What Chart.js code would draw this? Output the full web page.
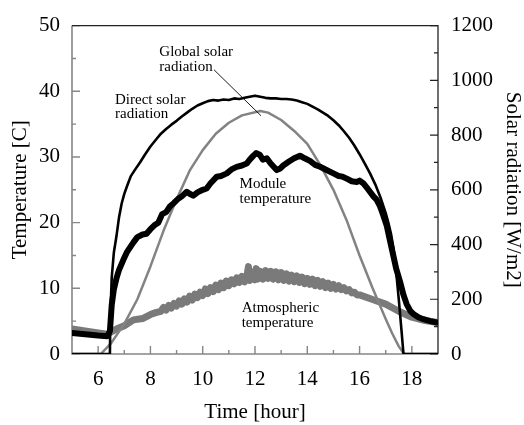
<!DOCTYPE html>
<html><head><meta charset="utf-8">
<script src="https://cdn.jsdelivr.net/npm/chart.js@4.4.0/dist/chart.umd.min.js"></script>
<style>html,body{margin:0;padding:0;background:#fff;}#wrap{width:524px;height:425px;}</style>
</head><body><div id="wrap"><canvas id="c" width="524" height="425"></canvas></div>
<script>
// ---- tick values ----
const xTicks = [6, 8, 10, 12, 14, 16, 18];
const xMinorTicks = [7, 9, 11, 13, 15, 17];
const tempTicks = [0, 10, 20, 30, 40, 50];
const tempMinorTicks = [5, 15, 25, 35, 45];
const radTicks = [0, 200, 400, 600, 800, 1000, 1200];
const radMinorTicks = [100, 300, 500, 700, 900, 1100];

// ---- Direct solar radiation [W/m2] ----
const directTime = [5.0, 6.45, 6.47, 6.52, 6.6, 6.7, 6.8, 6.9, 7.0, 7.1, 7.25, 7.4, 7.6, 7.8, 8.0, 8.2, 8.4, 8.6, 8.8, 9.0, 9.2, 9.4, 9.6, 9.8, 10.0, 10.2, 10.4, 10.6, 10.8, 11.0, 11.2, 11.4, 11.6, 11.8, 12.0, 12.2, 12.4, 12.6, 12.8, 13.0, 13.2, 13.4, 13.6, 13.8, 14.0, 14.2, 14.4, 14.6, 14.8, 15.0, 15.2, 15.4, 15.6, 15.8, 16.0, 16.2, 16.4, 16.6, 16.8, 17.0, 17.1, 17.2, 17.3, 17.4, 17.5, 17.6, 17.68, 19.0];
const directRad = [0, 0, 150, 280, 370, 430, 500, 550, 585, 612, 650, 672, 700, 730, 758, 782, 805, 822, 838, 852, 868, 882, 896, 908, 916, 924, 928, 926, 930, 928, 934, 932, 936, 940, 944, 940, 936, 934, 934, 932, 932, 930, 926, 920, 914, 904, 894, 882, 870, 854, 836, 814, 790, 762, 730, 696, 660, 620, 572, 515, 480, 440, 385, 300, 200, 90, 0, 0];

// ---- Global solar radiation [W/m2] ----
const globalTime = [5.0, 6.1, 6.5, 7.0, 7.5, 8.0, 8.5, 9.0, 9.5, 10.0, 10.5, 11.0, 11.5, 12.2, 12.5, 13.0, 13.5, 14.0, 14.5, 15.0, 15.5, 16.0, 16.5, 17.0, 17.25, 17.5, 17.7, 19.0];
const globalRad = [0, 0, 40, 110, 200, 320, 450, 565, 670, 745, 805, 845, 872, 888, 882, 855, 815, 768, 690, 600, 490, 360, 240, 128, 75, 28, 0, 0];

// ---- Module temperature [C] ----
const moduleTime = [5.0, 5.5, 6.0, 6.35, 6.45, 6.52, 6.6, 6.7, 6.8, 6.96, 7.1, 7.35, 7.5, 7.7, 7.85, 8.0, 8.15, 8.3, 8.45, 8.6, 8.75, 8.9, 9.05, 9.2, 9.39, 9.5, 9.64, 9.8, 10.0, 10.15, 10.3, 10.54, 10.7, 10.92, 11.1, 11.3, 11.5, 11.68, 11.8, 11.94, 12.05, 12.19, 12.3, 12.45, 12.6, 12.83, 12.95, 13.08, 13.3, 13.5, 13.72, 13.9, 14.1, 14.3, 14.49, 14.7, 15.0, 15.2, 15.35, 15.51, 15.7, 15.89, 16.0, 16.14, 16.3, 16.53, 16.65, 16.78, 16.9, 17.04, 17.15, 17.29, 17.4, 17.55, 17.68, 17.8, 17.95, 18.06, 18.25, 18.44, 18.7, 18.95, 19.0];
const moduleTemp = [3.2, 3.0, 2.8, 2.7, 3.5, 7.5, 9.8, 11.5, 12.8, 14.3, 15.5, 17.0, 17.8, 18.2, 18.3, 19.0, 19.6, 20.0, 21.3, 21.6, 22.5, 23.0, 23.6, 24.0, 24.7, 24.4, 24.1, 24.6, 25.0, 25.2, 26.0, 27.0, 27.1, 27.5, 28.1, 28.5, 28.7, 29.0, 29.6, 30.2, 30.6, 30.3, 29.6, 29.8, 29.0, 28.0, 28.2, 28.7, 29.3, 29.8, 30.2, 29.8, 29.4, 28.8, 28.5, 28.1, 27.5, 27.1, 27.0, 26.7, 26.3, 26.2, 26.4, 26.0, 25.2, 24.0, 23.5, 22.5, 21.2, 19.5, 17.5, 15.0, 13.0, 11.0, 9.0, 7.6, 6.5, 6.1, 5.6, 5.3, 5.0, 4.8, 4.8];

// ---- Atmospheric temperature [C] ----
const atmTime = [5.0, 5.5, 6.0, 6.35, 6.7, 7.0, 7.35, 7.7, 8.0, 8.2, 8.4, 8.5, 8.6, 8.7, 8.8, 8.9, 9.0, 9.1, 9.2, 9.3, 9.4, 9.5, 9.6, 9.7, 9.8, 9.9, 10.0, 10.1, 10.2, 10.3, 10.4, 10.5, 10.6, 10.7, 10.8, 10.9, 11.0, 11.1, 11.2, 11.3, 11.4, 11.5, 11.6, 11.7, 11.75, 11.8, 11.9, 12.0, 12.05, 12.1, 12.2, 12.3, 12.4, 12.5, 12.6, 12.7, 12.8, 12.9, 13.0, 13.1, 13.2, 13.3, 13.4, 13.5, 13.6, 13.7, 13.8, 13.9, 14.0, 14.1, 14.2, 14.3, 14.4, 14.5, 14.6, 14.7, 14.8, 14.9, 15.0, 15.1, 15.2, 15.3, 15.4, 15.5, 15.6, 15.7, 15.8, 15.9, 16.0, 16.5, 17.0, 17.5, 18.0, 18.5, 19.0];
const atmTemp = [3.8, 3.5, 3.2, 3.0, 3.8, 4.3, 5.2, 5.4, 6.0, 6.3, 6.5, 7.1, 6.7, 7.4, 7.0, 7.7, 7.3, 8.1, 7.6, 8.4, 7.9, 8.8, 8.2, 9.1, 8.6, 9.4, 8.9, 9.9, 9.2, 10.1, 9.5, 10.5, 9.8, 10.8, 10.1, 11.1, 10.4, 11.3, 10.7, 11.6, 10.9, 11.8, 11.0, 12.1, 13.3, 11.2, 12.5, 11.3, 13.0, 11.4, 12.6, 11.4, 12.7, 11.5, 12.6, 11.4, 12.5, 11.3, 12.4, 11.2, 12.2, 11.1, 12.0, 11.0, 11.9, 10.9, 11.7, 10.7, 11.5, 10.6, 11.4, 10.4, 11.2, 10.3, 11.0, 10.1, 10.8, 10.0, 10.6, 9.9, 10.4, 9.8, 10.1, 9.6, 9.8, 9.3, 9.4, 9.0, 9.0, 8.3, 7.6, 6.5, 5.6, 5.1, 4.8];

const pts = (xs, ys) => xs.map((x, i) => ({ x: x, y: ys[i] }));
const SERIF = "'Liberation Serif', 'Times New Roman', serif";

// annotation labels (anchored in data coordinates: time, temperature)
const notes = [
  { lines: ['Global solar', 'radiation'], t: 8.34, temp: 45.37 },
  { lines: ['Direct solar', 'radiation'], t: 6.645, temp: 38.1 },
  { lines: ['Module', 'temperature'], t: 11.41, temp: 25.22 },
  { lines: ['Atmospheric', 'temperature'], t: 11.49, temp: 6.34 }
];
const leader = { t1: 10.43, temp1: 43.28, t2: 12.23, temp2: 36.27 };

const framePlugin = {
  id: 'frame',
  beforeDatasetsDraw(chart) {
    const { ctx, chartArea: a, scales } = chart;
    const sx = scales.x, sl = scales.yT, sr = scales.yR;
    ctx.save();
    ctx.strokeStyle = '#868686';
    ctx.lineWidth = 1.6;
    ctx.beginPath();
    ctx.moveTo(a.left, a.top); ctx.lineTo(a.left, a.bottom); ctx.lineTo(a.right, a.bottom);
    ctx.stroke();
    ctx.lineWidth = 1.4;
    ctx.beginPath();
    xTicks.forEach(v => { const p = sx.getPixelForValue(v); ctx.moveTo(p, a.bottom); ctx.lineTo(p, a.bottom - 8); });
    xMinorTicks.forEach(v => { const p = sx.getPixelForValue(v); ctx.moveTo(p, a.bottom); ctx.lineTo(p, a.bottom - 4); });
    tempTicks.forEach(v => { const p = sl.getPixelForValue(v); ctx.moveTo(a.left, p); ctx.lineTo(a.left + 8, p); });
    tempMinorTicks.forEach(v => { const p = sl.getPixelForValue(v); ctx.moveTo(a.left, p); ctx.lineTo(a.left + 4, p); });
    ctx.stroke();
    ctx.strokeStyle = '#222';
    ctx.lineWidth = 1.3;
    ctx.beginPath();
    ctx.moveTo(a.left, a.top); ctx.lineTo(a.right, a.top); ctx.lineTo(a.right, a.bottom);
    ctx.stroke();
    ctx.lineWidth = 1.2;
    ctx.beginPath();
    radTicks.forEach(v => { const p = sr.getPixelForValue(v); ctx.moveTo(a.right, p); ctx.lineTo(a.right - 8, p); });
    radMinorTicks.forEach(v => { const p = sr.getPixelForValue(v); ctx.moveTo(a.right, p); ctx.lineTo(a.right - 4, p); });
    ctx.stroke();
    ctx.restore();
  },
  afterDatasetsDraw(chart) {
    const { ctx, scales } = chart;
    const sx = scales.x, sl = scales.yT;
    ctx.save();
    ctx.fillStyle = '#000';
    ctx.font = '15px ' + SERIF;
    ctx.textAlign = 'left';
    ctx.textBaseline = 'alphabetic';
    notes.forEach(n => {
      const x = sx.getPixelForValue(n.t), y = sl.getPixelForValue(n.temp);
      n.lines.forEach((s, i) => ctx.fillText(s, x, y + i * 14.5));
    });
    ctx.strokeStyle = '#000';
    ctx.lineWidth = 0.9;
    ctx.beginPath();
    ctx.moveTo(sx.getPixelForValue(leader.t1), sl.getPixelForValue(leader.temp1));
    ctx.lineTo(sx.getPixelForValue(leader.t2), sl.getPixelForValue(leader.temp2));
    ctx.stroke();
    ctx.restore();
  }
};

const tickFont = { family: SERIF, size: 21 };
const titleFont = { family: SERIF, size: 21 };
const plain = v => String(v);

new Chart(document.getElementById('c'), {
  type: 'line',
  data: {
    datasets: [
      { label: 'Direct solar radiation', data: pts(directTime, directRad), yAxisID: 'yR', borderColor: '#000', borderWidth: 2.6, order: 0 },
      { label: 'Module temperature', data: pts(moduleTime, moduleTemp), yAxisID: 'yT', borderColor: '#000', borderWidth: 6, order: 1 },
      { label: 'Global solar radiation', data: pts(globalTime, globalRad), yAxisID: 'yR', borderColor: '#838383', borderWidth: 2.5, order: 2 },
      { label: 'Atmospheric temperature', data: pts(atmTime, atmTemp), yAxisID: 'yT', borderColor: '#7a7a7a', borderWidth: 7, order: 3 }
    ]
  },
  options: {
    responsive: false,
    animation: false,
    devicePixelRatio: 1,
    layout: { padding: { top: 19, left: 0, right: 0, bottom: 0 } },
    elements: {
      point: { radius: 0, hoverRadius: 0 },
      line: { tension: 0, borderJoinStyle: 'round', borderCapStyle: 'round', fill: false }
    },
    plugins: { legend: { display: false }, tooltip: { enabled: false } },
    scales: {
      x: {
        type: 'linear', position: 'bottom', min: 5, max: 19,
        afterBuildTicks: s => { s.ticks = xTicks.map(v => ({ value: v })); },
        afterFit: s => { s.height = 71; },
        grid: { display: false, drawTicks: false }, border: { display: false },
        ticks: { font: tickFont, color: '#000', padding: 13, maxRotation: 0, autoSkip: false, callback: plain },
        title: { display: true, text: 'Time [hour]', font: titleFont, color: '#000', padding: { top: 0, bottom: 0 } }
      },
      yT: {
        type: 'linear', position: 'left', min: 0, max: 50,
        afterBuildTicks: s => { s.ticks = tempTicks.map(v => ({ value: v })); },
        afterFit: s => { s.width = 72; },
        grid: { display: false, drawTicks: false }, border: { display: false },
        ticks: { font: tickFont, color: '#000', padding: 12, callback: plain },
        title: { display: true, text: 'Temperature [C]', font: titleFont, color: '#000', padding: { top: 8, bottom: 0 } }
      },
      yR: {
        type: 'linear', position: 'right', min: 0, max: 1200,
        afterBuildTicks: s => { s.ticks = radTicks.map(v => ({ value: v })); },
        afterFit: s => { s.width = 86; },
        grid: { display: false, drawTicks: false }, border: { display: false },
        ticks: { font: tickFont, color: '#000', padding: 13, callback: plain },
        title: { display: true, text: 'Solar radiation [W/m2]', font: titleFont, color: '#000', padding: { top: -1, bottom: 0 } }
      }
    }
  },
  plugins: [framePlugin]
});
</script></body></html>
